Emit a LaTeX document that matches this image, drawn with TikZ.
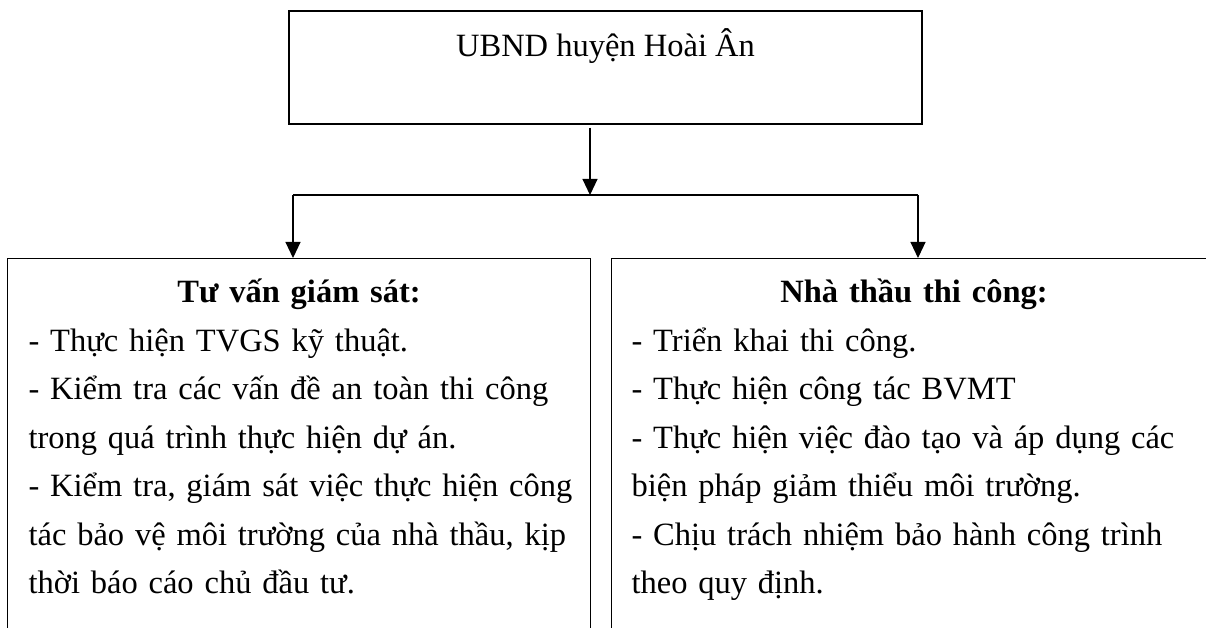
\documentclass[tikz,border=0pt]{standalone}
\usepackage{fontspec}
\setmainfont{Liberation Serif}
\usetikzlibrary{positioning,arrows.meta}
\newcommand\fullLine[1]{\makebox[\linewidth][s]{#1}}
\tikzset{
 blk/.style={draw,line width=1.1pt,fill=white,inner sep=0pt},
 arr/.style={line width=1.1pt,-{Triangle[length=16pt,width=15pt]}},
 txt/.style={font=\fontsize{32.5}{48.5}\selectfont}
}

\begin{document}
\begin{tikzpicture}[x=1pt,y=-1pt]
 \useasboundingbox (0,0) rectangle (1206,628);
 \clip (0,0) rectangle (1206,628);
 \node[blk,txt,minimum width=633pt,minimum height=113pt,text height=20pt,text depth=41pt] (ubnd) at (605.5,67.5) {UBND huyện Hoài Ân};

 \node[blk,txt,anchor=north west,text width=541pt,inner xsep=21pt,align=left,text height=44pt,text depth=360pt] (tvgs) at (7,258)
  {\makebox[\linewidth]{\bfseries Tư vấn giám sát:}\\
   - Thực hiện TVGS kỹ thuật.\\
   \fullLine{- Kiểm tra các vấn đề an toàn thi công}\\
   trong quá trình thực hiện dự án.\\
   \fullLine{- Kiểm tra, giám sát việc thực hiện công}\\
   \fullLine{tác bảo vệ môi trường của nhà thầu, kịp}\\
   thời báo cáo chủ đầu tư.};
 \node[blk,txt,anchor=north west,text width=565pt,inner xsep=20pt,align=left,text height=44pt,text depth=360pt] (ntc) at (611,258)
  {\makebox[\linewidth]{\bfseries Nhà thầu thi công:}\\
   - Triển khai thi công.\\
   - Thực hiện công tác BVMT\\
   \fullLine{- Thực hiện việc đào tạo và áp dụng các}\\
   biện pháp giảm thiểu môi trường.\\
   \fullLine{- Chịu trách nhiệm bảo hành công trình}\\
   theo quy định.};

 % nhanh re
 \coordinate (fork) at (590,195);
 \coordinate (forkL) at (293,195);
 \coordinate (forkR) at (918,195);
 \draw[arr] ([xshift=-15.5pt,yshift=-3pt]ubnd.south) -- (fork);
 \draw[line width=1.1pt] (forkL) -- (forkR);
 \draw[arr] (forkL) -- (forkL |- tvgs.north);
 \draw[arr] (forkR) -- (forkR |- ntc.north);
\end{tikzpicture}
\end{document}
